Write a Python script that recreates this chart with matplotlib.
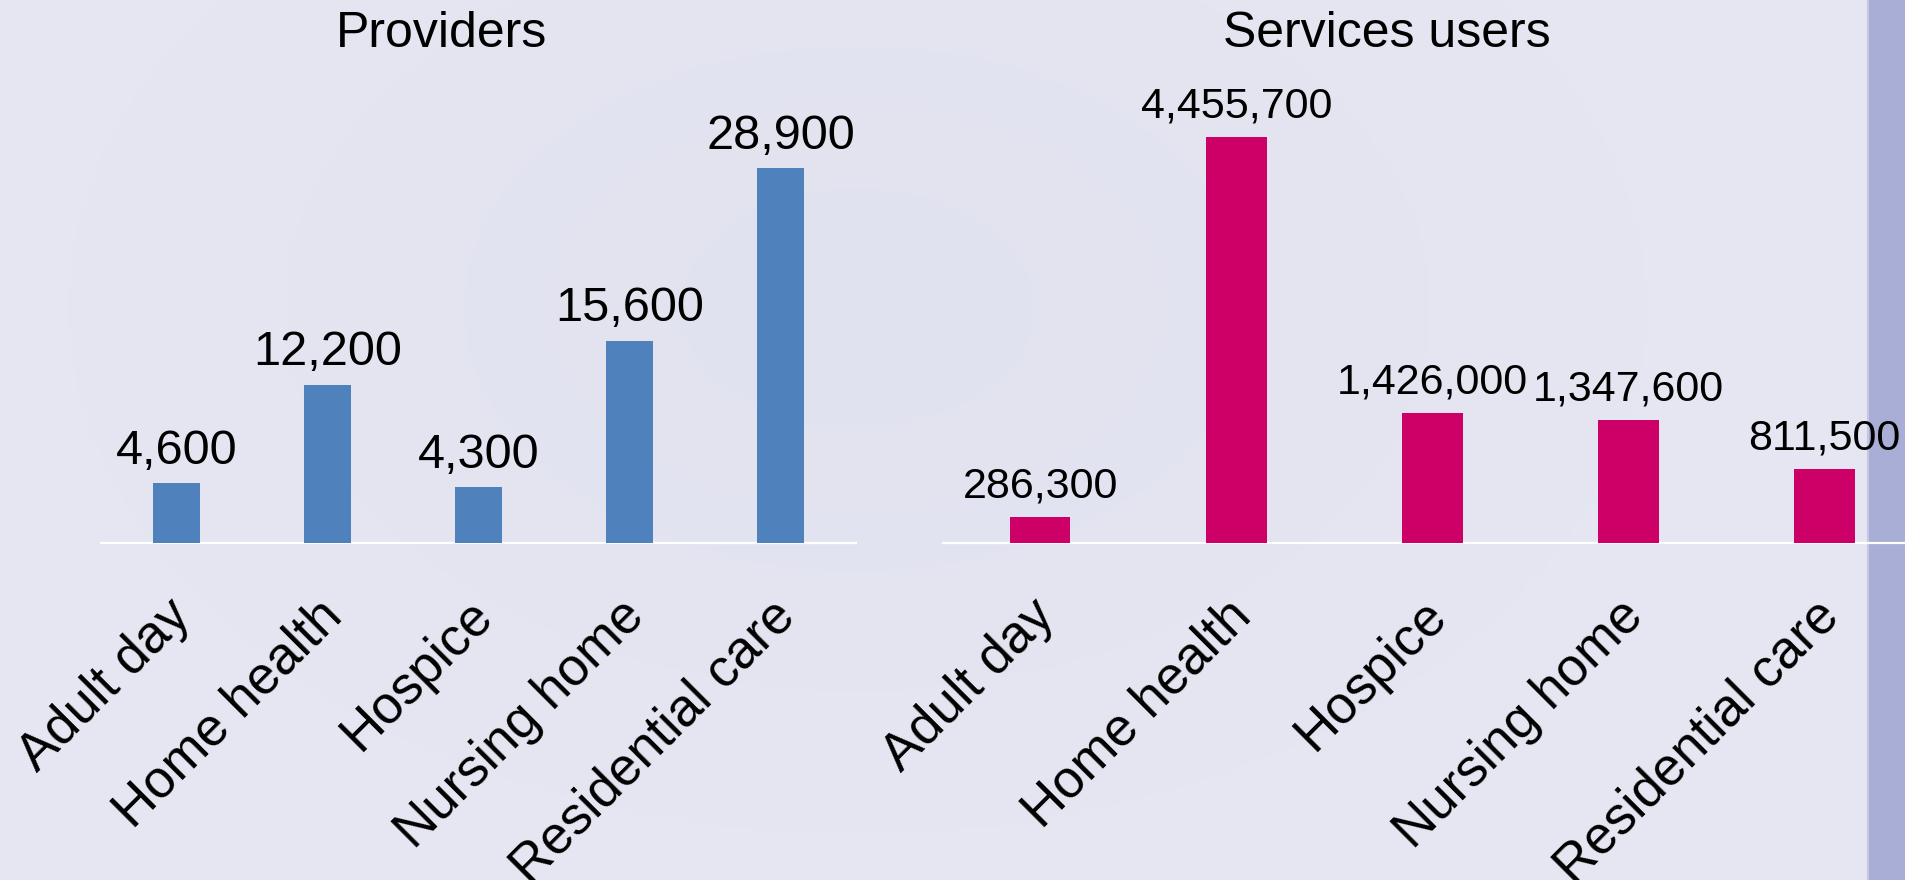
import numpy as np
import matplotlib
matplotlib.use("Agg")
import matplotlib.pyplot as plt

plt.rcParams['font.family'] = ['Liberation Sans', 'DejaVu Sans']

categories = ["Adult day", "Home health", "Hospice", "Nursing home", "Residential care"]
providers = [4600, 12200, 4300, 15600, 28900]
service_users = [286300, 4455700, 1426000, 1347600, 811500]
panel_titles = ["Providers", "Services users"]

BLUE = "#4F81BD"
MAGENTA = "#CC0066"
BAND = "#A8AED5"

W, H = 1905, 880
fig = plt.figure(figsize=(W / 100, H / 100), dpi=100)

# soft lavender background
bg = fig.add_axes([0, 0, 1, 1], zorder=-10)
yy, xx = np.mgrid[0:1:200j, 0:1:400j]
shade = 0.5 * np.exp(-((xx - 0.45) ** 2 / 0.12 + (yy - 0.35) ** 2 / 0.25))
c_light = np.array([0.902, 0.906, 0.950])
c_dark = np.array([0.868, 0.872, 0.928])
img = c_light[None, None, :] * (1 - shade[..., None]) + c_dark[None, None, :] * shade[..., None]
bg.imshow(img, extent=[0, 1, 0, 1], aspect='auto', origin='upper')
bg.add_patch(plt.Rectangle((1868 / W, 0), 1 - 1868 / W, 1, color=BAND, lw=0))
bg.axvline(1868 / W, color="#c4c8e2", lw=1.5)
bg.set_xlim(0, 1)
bg.set_ylim(0, 1)
bg.axis('off')

base_px = 543
top_px = 80
ax_bottom = (H - base_px) / H
ax_height = (base_px - top_px) / H


def draw_panel(left_px, right_px, values, color, ytop, xlim, value_fs, width):
    ax = fig.add_axes([left_px / W, ax_bottom, (right_px - left_px) / W, ax_height])
    ax.patch.set_alpha(0)
    x = np.arange(len(values))
    ax.bar(x, values, width=width, color=color, zorder=3)
    ax.set_xlim(*xlim)
    ax.set_ylim(0, ytop)
    for s in ['top', 'right', 'left']:
        ax.spines[s].set_visible(False)
    ax.spines['bottom'].set_color('white')
    ax.spines['bottom'].set_linewidth(1.6)
    ax.set_yticks([])
    ax.set_xticks([])
    for xi, name in zip(x, categories):
        ax.annotate(name, (xi, 0), xytext=(-8, -34), textcoords='offset points',
                    rotation=45, rotation_mode='anchor', ha='right', va='top',
                    fontsize=38, annotation_clip=False)
    for xi, v in zip(x, values):
        ax.annotate(f"{v:,}", (xi, v), xytext=(0, 14), textcoords='offset points',
                    ha='center', va='baseline', fontsize=value_fs)
    return ax


draw_panel(101, 856, providers, BLUE, 28900 * 463 / 375, (-0.5, 4.5), 35, 0.31)
draw_panel(943, 1905, service_users, MAGENTA, 4455700 * 463 / 406, (-0.495, 4.41), 31, 0.31)

fig.text(441 / W, 1 - 47 / H, panel_titles[0], ha='center', va='baseline', fontsize=36)
fig.text(1387 / W, 1 - 47 / H, panel_titles[1], ha='center', va='baseline', fontsize=36)

fig.savefig("out.png", dpi=100)
